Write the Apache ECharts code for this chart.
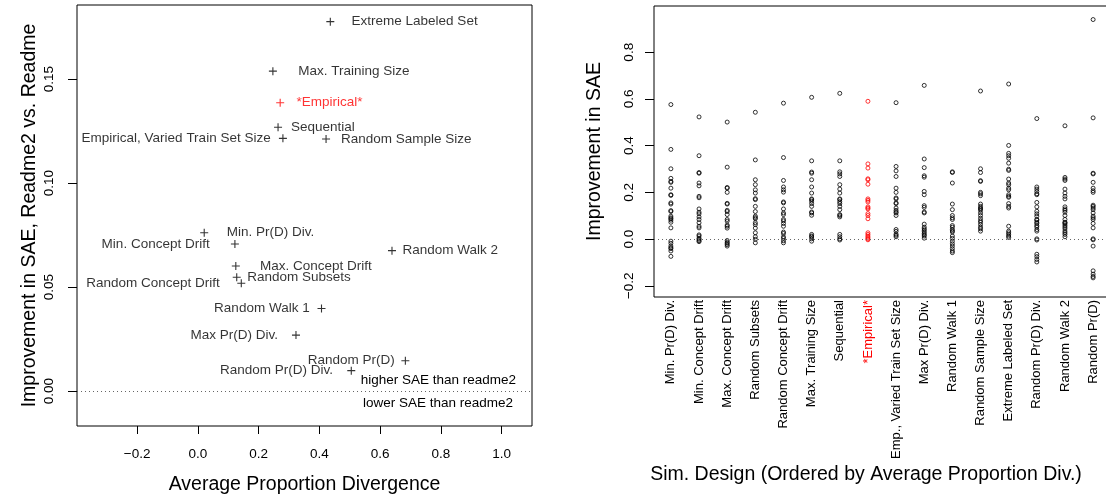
<!DOCTYPE html>
<html>
<head>
<meta charset="utf-8">
<style>
  html, body { margin: 0; padding: 0; background: #fff; }
  #chart { width: 1106px; height: 495px; }
</style>
<script src="https://cdn.jsdelivr.net/npm/echarts@6/dist/echarts.min.js"></script>
</head>
<body>
<div id="chart"></div>
<script>
// ---- Left panel: average proportion divergence vs. SAE improvement per design ----
const designNames = [
  'Min. Pr(D) Div.', 'Min. Concept Drift', 'Max. Concept Drift', 'Random Subsets',
  'Random Concept Drift', 'Max. Training Size', 'Sequential', '*Empirical*',
  'Empirical, Varied Train Set Size', 'Max Pr(D) Div.', 'Random Walk 1', 'Random Sample Size',
  'Extreme Labeled Set', 'Random Pr(D) Div.', 'Random Walk 2', 'Random Pr(D)'
];
const avgPropDivergence = [
  0.021, 0.122, 0.125, 0.128, 0.143, 0.247, 0.264, 0.271,
  0.280, 0.323, 0.407, 0.422, 0.436, 0.505, 0.639, 0.683
];
const saeImprovement = [
  0.0761, 0.0707, 0.0601, 0.0547, 0.0518, 0.1538, 0.1268, 0.1386,
  0.1215, 0.0269, 0.0397, 0.1212, 0.1776, 0.0098, 0.0675, 0.0146
];
// label side and gap (px from the marker centre) for each design name
const labelSide = ['right','left','right','right','left','right','right','right',
                   'left','left','left','right','right','left','right','left'];
const labelGap = [22, 24.7, 23.6, 10, 21, 24.7, 12.3, 15.7, 11.7, 17.4, 11.3, 14.3, 20.7, 17.7, 10, 10];

const leftXTicks = [-0.2, 0.0, 0.2, 0.4, 0.6, 0.8, 1.0];
const leftYTicks = [0.00, 0.05, 0.10, 0.15];

// ---- Right panel: per-run SAE improvement by simulation design ----
const stripNames = [
  'Min. Pr(D) Div.', 'Min. Concept Drift', 'Max. Concept Drift', 'Random Subsets',
  'Random Concept Drift', 'Max. Training Size', 'Sequential', '*Empirical*',
  'Emp., Varied Train Set Size', 'Max Pr(D) Div.', 'Random Walk 1', 'Random Sample Size',
  'Extreme Labeled Set', 'Random Pr(D) Div.', 'Random Walk 2', 'Random Pr(D)'
];
const minPrDDiv = [0.576,0.384,0.301,0.26,0.247,0.243,0.218,0.19,0.187,0.155,0.15,0.122,0.118,0.098,0.091,0.087,0.081,0.072,0.048,-0.009,-0.018,-0.03,-0.037,-0.041,-0.051,-0.074];
const minConceptDrift = [0.523,0.357,0.285,0.282,0.24,0.228,0.183,0.177,0.129,0.115,0.108,0.095,0.084,0.07,0.055,0.048,0.018,0.013,0.004,-0.001,-0.007,-0.011];
const maxConceptDrift = [0.501,0.308,0.221,0.218,0.2,0.153,0.15,0.123,0.118,0.105,0.084,0.077,0.06,0.055,0.047,-0.006,-0.013,-0.018,-0.024,-0.03];
const randomSubsets = [0.543,0.339,0.254,0.233,0.211,0.197,0.173,0.169,0.14,0.118,0.098,0.092,0.087,0.07,0.062,0.047,0.027,0.01,-0.001,-0.016];
const randomConceptDrift = [0.582,0.349,0.251,0.223,0.211,0.201,0.159,0.155,0.129,0.112,0.105,0.084,0.078,0.067,0.055,0.03,0.024,0.01,0.003,-0.007,-0.016];
const maxTrainingSize = [0.607,0.335,0.287,0.282,0.254,0.223,0.197,0.172,0.169,0.162,0.152,0.14,0.116,0.112,0.102,0.02,0.013,0.009,0.001,-0.009];
const sequential = [0.624,0.335,0.288,0.279,0.268,0.233,0.214,0.197,0.172,0.169,0.16,0.152,0.14,0.126,0.105,0.101,0.095,0.02,0.01,0.001,-0.004];
const empirical = [0.59,0.322,0.304,0.258,0.254,0.235,0.172,0.166,0.159,0.138,0.133,0.129,0.109,0.101,0.087,0.027,0.02,0.013,0.007,0.001,-0.003];
const empVariedTrainSize = [0.584,0.311,0.292,0.268,0.218,0.2,0.176,0.172,0.155,0.152,0.133,0.123,0.116,0.112,0.101,0.041,0.033,0.021,0.016,0.01];
const maxPrDDiv = [0.658,0.343,0.306,0.271,0.265,0.204,0.19,0.143,0.136,0.116,0.112,0.064,0.051,0.044,0.038,0.031,0.024,0.018,0.013,0.004];
const randomWalk1 = [0.288,0.285,0.24,0.15,0.126,0.101,0.091,0.084,0.058,0.051,0.041,0.035,0.03,0.013,0.003,-0.009,-0.02,-0.03,-0.041,-0.051,-0.058];
const randomSampleSize = [0.634,0.301,0.285,0.25,0.247,0.2,0.194,0.186,0.15,0.14,0.133,0.129,0.123,0.112,0.101,0.089,0.079,0.072,0.062,0.051,0.044,0.034];
const extremeLabeledSet = [0.664,0.401,0.367,0.357,0.346,0.325,0.299,0.294,0.257,0.24,0.233,0.218,0.211,0.19,0.183,0.179,0.152,0.14,0.133,0.055,0.034,0.027,0.02,0.013,0.007];
const randomPrDDiv = [0.516,0.223,0.214,0.204,0.194,0.19,0.157,0.138,0.119,0.108,0.098,0.084,0.081,0.072,0.067,0.058,0.052,0.041,0.034,0.001,-0.004,-0.065,-0.075,-0.087,-0.098];
const randomWalk2 = [0.485,0.264,0.257,0.251,0.214,0.197,0.183,0.172,0.138,0.129,0.123,0.115,0.101,0.084,0.072,0.07,0.065,0.058,0.051,0.044,0.034,0.027,0.02,0.01];
const randomPrD = [0.94,0.519,0.282,0.279,0.243,0.218,0.207,0.2,0.145,0.14,0.133,0.126,0.112,0.098,0.091,0.084,0.067,0.048,0.001,-0.003,-0.03,-0.136,-0.15,-0.16,-0.166];

const stripColumns = [
  minPrDDiv, minConceptDrift, maxConceptDrift, randomSubsets, randomConceptDrift,
  maxTrainingSize, sequential, empirical, empVariedTrainSize, maxPrDDiv, randomWalk1,
  randomSampleSize, extremeLabeledSet, randomPrDDiv, randomWalk2, randomPrD
];
const rightYTicks = [-0.2, 0.0, 0.2, 0.4, 0.6, 0.8];
const highlightName = '*Empirical*';

// ---- build ----
const FONT = 'Liberation Sans, Arial, Helvetica, sans-serif';
const RED = '#ff0000';
const minus = (s) => s.replace('-', '\u2212');

const leftPoints = designNames.map((name, i) => {
  const red = name === highlightName;
  return {
    name,
    value: [avgPropDivergence[i], saeImprovement[i]],
    itemStyle: { borderColor: red ? RED : '#000' },
    label: {
      position: labelSide[i],
      distance: labelGap[i] - 4,
      color: red ? RED : '#000'
    }
  };
});

const stripBlack = [];
const stripRed = [];
stripColumns.forEach((col, i) => {
  const target = stripNames[i] === highlightName ? stripRed : stripBlack;
  col.forEach(v => target.push([i + 1, v]));
});

const chart = echarts.init(document.getElementById('chart'), null, { renderer: 'canvas' });

// plot boxes keep their exact size; nothing is shrunk to fit the labels
const boxGrid = {
  show: true, borderColor: '#000', borderWidth: 1, backgroundColor: 'transparent',
  containLabel: false, outerBoundsMode: 'none'
};
const hiddenLine = { show: false, onZero: false };

chart.setOption({
  animation: false,
  textStyle: { fontFamily: FONT },
  grid: [
    Object.assign({ left: 77, top: 5, width: 455, height: 421 }, boxGrid),
    Object.assign({ left: 654, top: 6, width: 456, height: 291 }, boxGrid)
  ],
  xAxis: [
    {
      gridIndex: 0, type: 'value', min: -0.3977, max: 1.0998,
      splitLine: { show: false },
      axisLine: hiddenLine,
      axisTick: { show: true, inside: false, length: 8, customValues: leftXTicks, lineStyle: { color: '#000' } },
      axisLabel: {
        customValues: leftXTicks, margin: 21, fontSize: 13.5, color: '#000', fontFamily: FONT,
        formatter: v => minus(v.toFixed(1))
      },
      name: 'Average Proportion Divergence', nameLocation: 'middle', nameGap: 49,
      nameTextStyle: { fontSize: 19.5, color: '#000', fontFamily: FONT }
    },
    {
      gridIndex: 1, type: 'value', min: 0.4, max: 16.6,
      splitLine: { show: false },
      axisLine: hiddenLine,
      axisTick: { show: false },
      axisLabel: {
        customValues: stripNames.map((_, i) => i + 1),
        rotate: 90, margin: 3, fontSize: 13, color: '#000', fontFamily: FONT,
        formatter: v => {
          const n = stripNames[Math.round(v) - 1];
          return n === highlightName ? '{hl|' + n + '}' : n;
        },
        rich: { hl: { color: RED, fontSize: 13, fontFamily: FONT } }
      }
    }
  ],
  yAxis: [
    {
      gridIndex: 0, type: 'value', min: -0.0168, max: 0.1856,
      splitLine: { show: false },
      axisLine: hiddenLine,
      axisTick: { show: true, inside: false, length: 9, customValues: leftYTicks, lineStyle: { color: '#000' } },
      axisLabel: {
        customValues: leftYTicks, rotate: 90, margin: 21, fontSize: 13.5, color: '#000', fontFamily: FONT,
        formatter: v => minus(v.toFixed(2))
      },
      name: 'Improvement in SAE, Readme2 vs. Readme', nameLocation: 'middle', nameRotate: 90, nameGap: 37,
      nameTextStyle: { fontSize: 19.5, color: '#000', fontFamily: FONT }
    },
    {
      gridIndex: 1, type: 'value', min: -0.248, max: 0.998,
      splitLine: { show: false },
      axisLine: hiddenLine,
      axisTick: { show: true, inside: false, length: 9, customValues: rightYTicks, lineStyle: { color: '#000' } },
      axisLabel: {
        customValues: rightYTicks, rotate: 90, margin: 18, fontSize: 13.5, color: '#000', fontFamily: FONT,
        formatter: v => minus(v.toFixed(1))
      },
      name: 'Improvement in SAE', nameLocation: 'middle', nameRotate: 90, nameGap: 49,
      nameTextStyle: { fontSize: 19.5, color: '#000', fontFamily: FONT }
    }
  ],
  graphic: [
    {
      type: 'text', x: 866, y: 465,
      style: {
        text: 'Sim. Design (Ordered by Average Proportion Div.)',
        fill: '#000', font: '19.5px ' + FONT, align: 'center', verticalAlign: 'top'
      }
    }
  ],
  series: [
    {
      type: 'scatter', xAxisIndex: 0, yAxisIndex: 0,
      symbol: 'path://M0 5H10M5 0V10', symbolSize: 8,
      itemStyle: { color: 'transparent', borderColor: '#000', borderWidth: 1.1 },
      label: {
        show: true, formatter: p => p.name, fontSize: 13.5, fontFamily: FONT
      },
      data: leftPoints,
      markLine: {
        silent: true, symbol: 'none',
        lineStyle: { type: [1, 3], color: '#666', width: 1 },
        label: { fontSize: 13.5, color: '#000', fontFamily: FONT },
        data: [
          { yAxis: 0, label: { formatter: 'higher SAE than readme2', position: 'insideEndTop', distance: [16, 4] } },
          { yAxis: 0, label: { formatter: 'lower SAE than readme2', position: 'insideEndBottom', distance: [19, 5] } }
        ]
      }
    },
    {
      type: 'scatter', xAxisIndex: 1, yAxisIndex: 1,
      symbol: 'circle', symbolSize: 4,
      itemStyle: { color: 'transparent', borderColor: '#000', borderWidth: 1 },
      data: stripBlack,
      markLine: {
        silent: true, symbol: 'none', label: { show: false },
        lineStyle: { type: [1, 3], color: '#666', width: 1 },
        data: [{ yAxis: 0 }]
      }
    },
    {
      type: 'scatter', xAxisIndex: 1, yAxisIndex: 1,
      symbol: 'circle', symbolSize: 4,
      itemStyle: { color: 'transparent', borderColor: RED, borderWidth: 1 },
      data: stripRed
    }
  ]
});
</script>
</body>
</html>
